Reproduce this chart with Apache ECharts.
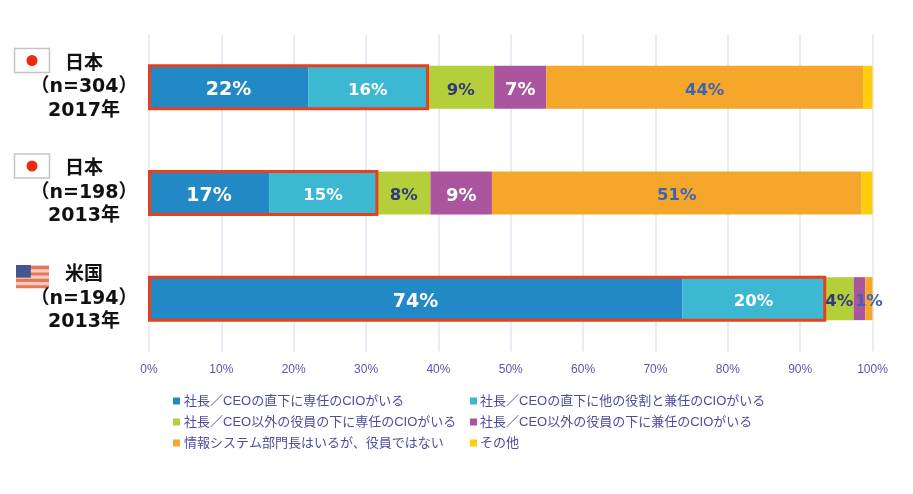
<!DOCTYPE html>
<html><head><meta charset="utf-8">
<style>html,body{margin:0;padding:0;background:#fff}#c{width:913px;height:494px;filter:blur(0.7px)}</style>
<script src="https://cdn.jsdelivr.net/npm/echarts@6/dist/echarts.min.js"></script>
</head><body><div id="c"></div>
<script>
const categories = ['日本\n（n=304）\n2017年', '日本\n（n=198）\n2013年', '米国\n（n=194）\n2013年'];
const names = ['社長／CEOの直下に専任のCIOがいる','社長／CEOの直下に他の役割と兼任のCIOがいる','社長／CEO以外の役員の下に専任のCIOがいる','社長／CEO以外の役員の下に兼任のCIOがいる','情報システム部門長はいるが、役員ではない','その他'];
const direct = [22, 16.6, 73.7];
const directShared = [16.5, 14.9, 19.7];
const otherExec = [9.2, 7.4, 4];
const otherShared = [7.2, 8.5, 1.6];
const notExec = [43.8, 51.1, 1];
const others = [1.3, 1.5, 0];
const directLabels = ['22%','17%','74%'];
const directSharedLabels = ['16%','15%','20%'];
const otherExecLabels = ['9%','8%','4%'];
const otherSharedLabels = ['7%','9%',''];
const notExecLabels = ['44%','51%','1%'];
const othersLabels = ['','',''];
const colors = ['#2288c6','#3cb8d2','#b5cf3a','#ab559e','#f5a72c','#ffcd0a'];
const labelStyles = [['#fff',19],['#fff',16.5],['#2f3a78',16.5],['#fff',18],['#3f62b5',16.5],['#fff',16]];
const values = [direct,directShared,otherExec,otherShared,notExec,others];
const labels = [directLabels,directSharedLabels,otherExecLabels,otherSharedLabels,notExecLabels,othersLabels];
const latin = '"DejaVu Sans","Noto Sans CJK JP",sans-serif';
const legendFont = '"Liberation Sans","Noto Sans CJK JP",sans-serif';

const series = names.map((n,i)=>({
  name:n, type:'bar', stack:'t', barWidth:43, data:values[i], z:2,
  itemStyle:{color:colors[i]},
  label:{show:true, position:'inside', offset:[0,3], color:labelStyles[i][0], fontFamily:latin, fontWeight:'bold', fontSize:labelStyles[i][1],
    formatter:p=>labels[i][p.dataIndex]}
}));
series.push({
  type:'custom', z:5, silent:true,
  data:direct.map((d,i)=>[d+directShared[i], i]),
  encode:{x:0,y:1},
  renderItem:(params,api)=>{
    const end=api.coord([api.value(0),api.value(1)]);
    const start=api.coord([0,api.value(1)]);
    const h=43;
    return {type:'rect',shape:{x:start[0]+0.5,y:end[1]-h/2,width:end[0]-start[0]-0.5,height:h},
      style:{fill:'none',stroke:'#e8401c',lineWidth:3}};
  }
});

function jp(x,y,w,h){return [
  {type:'rect',shape:{x,y,width:w,height:h},style:{fill:'#fff',stroke:'#c4c4c4',lineWidth:1.5}},
  {type:'circle',shape:{cx:x+w/2,cy:y+h/2,r:5.5},style:{fill:'#ee2a10'}}
];}
function us(x,y,w,h){
  const out=[{type:'rect',shape:{x,y,width:w,height:h},style:{fill:'#f6cbbd'}}];
  for(let i=0;i<4;i++) out.push({type:'rect',shape:{x,y:y+i*h/3.6+1,width:w,height:h/7.2},style:{fill:'#e4775a'}});
  out.push({type:'rect',shape:{x,y,width:w*0.45,height:h*0.55},style:{fill:'#44568f'}});
  return out;
}
const chart=echarts.init(document.getElementById('c'),null,{renderer:'canvas'});
chart.setOption({
  animation:false, backgroundColor:'#fff',
  grid:{left:149,top:34.5,width:723.5,height:317,containLabel:false},
  xAxis:{type:'value',min:0,max:100,interval:10,
    axisLine:{show:false},axisTick:{show:false},
    splitLine:{show:true,lineStyle:{color:'#ebebf6',width:2}},
    axisLabel:{formatter:'{value}%',color:'#5d55a8',fontSize:12,fontFamily:'"Liberation Sans",sans-serif',margin:12}},
  yAxis:{type:'category',inverse:true,data:categories,
    axisLine:{show:false},axisTick:{show:false},splitLine:{show:false},
    axisLabel:{align:'center',margin:65,color:'#111',fontFamily:latin,fontWeight:'bold',fontSize:19,lineHeight:23.5,padding:[6,0,0,0]}},
  legend:[0,1].map(k=>({
    left:k?465:168, top:388, orient:'vertical', itemGap:5, itemWidth:7, itemHeight:7, icon:'rect', selectedMode:false,
    data:names.filter((_,i)=>i%2===k),
    textStyle:{color:'#4d4ca0',fontSize:13,fontFamily:legendFont,padding:[0,0,0,k?-2:-1],lineHeight:16,height:16}
  })),
  graphic:[...jp(14.5,48.5,35,24),...jp(14.5,154,35,24),...us(16,265,33,23)].map(g=>Object.assign(g,{silent:true})),
  series
});
</script></body></html>
